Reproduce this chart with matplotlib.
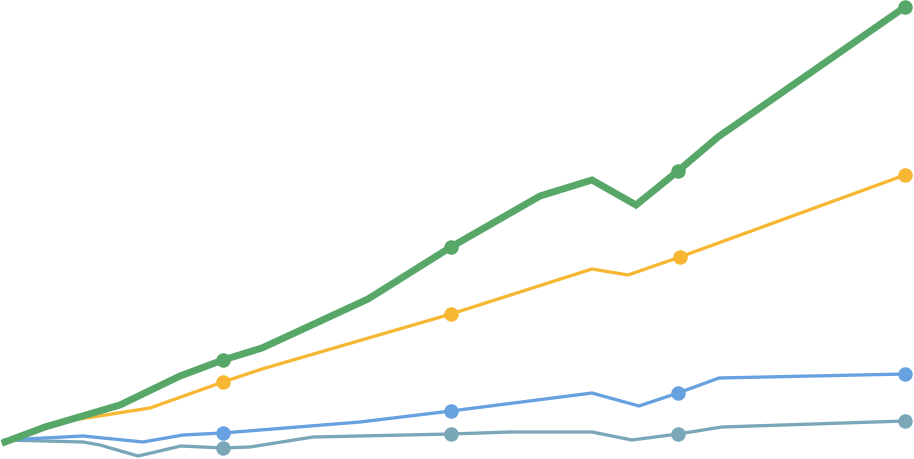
import numpy as np
import matplotlib
matplotlib.use("Agg")
import matplotlib.pyplot as plt

# values (x position, height above bottom edge)
green_x = [5, 45, 120, 180, 223, 262, 368, 451, 540, 592, 636, 678, 718, 905]
green_y = [17, 32, 54, 83, 99, 111, 160, 212, 263, 279, 254, 288, 322, 452]
green_mk = [223, 451, 678, 905]

yellow_x = [5, 67, 150, 223, 262, 451, 592, 628, 680, 905]
yellow_y = [17, 38, 51, 77, 90, 145, 190, 184, 202, 284]
yellow_mk = [223, 451, 680, 905]

blue_x = [5, 83, 143, 183, 223, 360, 451, 592, 639, 678, 719, 905]
blue_y = [19, 23, 17, 24, 26, 37, 48, 66, 53, 66, 81, 85]
blue_mk = [223, 451, 678, 905]

teal_x = [5, 83, 100, 138, 181, 223, 250, 313, 360, 451, 510, 592, 632, 678, 722, 905]
teal_y = [19, 17, 14, 3, 13, 11, 12, 22, 23, 25, 27, 27, 19, 25, 32, 38]
teal_mk = [223, 451, 678, 905]

series = [
    (teal_x, teal_y, teal_mk, "#79a7b8", 3.3),
    (blue_x, blue_y, blue_mk, "#68a1e0", 3.3),
    (yellow_x, yellow_y, yellow_mk, "#f7b733", 3.3),
    (green_x, green_y, green_mk, "#57a868", 7.0),
]

fig = plt.figure(figsize=(9.14, 4.60), dpi=100)
ax = fig.add_axes([0, 0, 1, 1])
ax.set_xlim(0, 914)
ax.set_ylim(0, 460)
ax.axis("off")

px = 72 / 100  # pixels -> points
for xs, ys, mk, col, lw in series:
    ax.plot(xs, ys, color=col, lw=lw * px, solid_joinstyle="miter", clip_on=False)
    idx = [xs.index(m) for m in mk]
    ax.plot([xs[i] for i in idx], [ys[i] for i in idx], "o", color=col,
            ms=14.5 * px, mec="none", clip_on=False)

fig.savefig("out.png", dpi=100)
